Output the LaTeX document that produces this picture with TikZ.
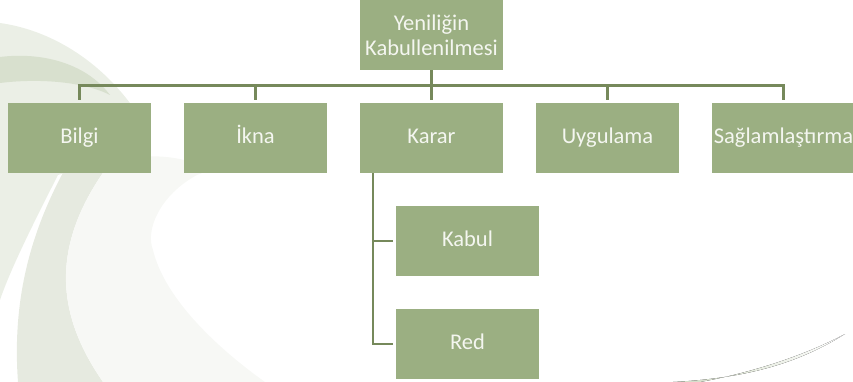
\documentclass[tikz,border=0pt]{standalone}
\usepackage{fontspec}
\setmainfont{Carlito}
\usetikzlibrary{calc}
\definecolor{boxgreen}{HTML}{9BAF82}
\definecolor{linegreen}{HTML}{76895B}
\definecolor{boxtext}{HTML}{F4F6F0}
\definecolor{bgA}{HTML}{EBEFE6}
\definecolor{bgB}{HTML}{D8E0CE}
\definecolor{bgC}{HTML}{E6EAE0}
\definecolor{bgD}{HTML}{F7F8F5}
\definecolor{bgS}{HTML}{D0DAC4}
\tikzset{
  boxbase/.style={fill=boxgreen, text=boxtext, minimum width=143pt, minimum height=70pt,
    inner sep=0pt, font=\fontsize{22.5}{25}\selectfont, align=center},
  box/.style={boxbase, text height=16pt, text depth=5pt},
  conn/.style={draw=linegreen, line width=2.6pt, line join=miter}
}
\begin{document}
\begin{tikzpicture}[x=1pt,y=-1pt]
\useasboundingbox (0,0) rectangle (853,382);
% background swooshes
\fill[bgA] (0,23) .. controls (50,30) and (100,60) .. (135,110) -- (110,160)
  -- (58,175) .. controls (35,220) and (10,270) .. (0,300) -- cycle;
\fill[bgB] (0,57) .. controls (40,52) and (85,62) .. (110,95)
  .. controls (85,82) and (40,78) .. (0,83) -- cycle;
\fill[bgC] (70,160) .. controls (30,230) and (12,300) .. (18,382) -- (103,382)
  .. controls (60,320) and (45,250) .. (110,163) -- cycle;
\fill[bgD] (110,163) .. controls (150,150) and (190,158) .. (210,170)
  -- (197,175) .. controls (160,195) and (145,230) .. (153,250)
  .. controls (165,300) and (220,350) .. (265,382) -- (103,382)
  .. controls (60,320) and (45,250) .. (110,163) -- cycle;
\fill[left color=bgS, right color=white] (673,382) .. controls (750,378) and (800,362) .. (845,334)
  .. controls (800,358) and (745,374) .. (700,382) -- cycle;
% nodes
\node[boxbase] (top) at (431.5,35) {Yeniliğin\\Kabullenilmesi};
\node[box] (bilgi) at (79.5,138) {Bilgi};
\node[box] (ikna) at (255.5,138) {İkna};
\node[box] (karar) at (431.5,138) {Karar};
\node[box] (uyg) at (607.5,138) {Uygulama};
\node[box] (sag) at (783.5,138) {Sağlamlaştırma};
\node[box] (kabul) at (467.5,241) {Kabul};
\node[box] (red) at (467.5,344) {Red};
% connectors
\draw[conn] ($(bilgi.north)+(0,-3)$) -- ($(bilgi.north)+(0,-17)$)
  -- ($(sag.north)+(0,-17)$) -- ($(sag.north)+(0,-3)$);
\draw[conn] ($(ikna.north)+(0,-17)$) -- ($(ikna.north)+(0,-3)$);
\draw[conn] ($(uyg.north)+(0,-17)$) -- ($(uyg.north)+(0,-3)$);
\draw[conn] (top.south) -- ($(karar.north)+(0,-3)$);
\draw[conn] ($(karar.south west)+(13,0)$) |- ($(red.west)+(-3,0)$);
\draw[conn] ($(karar.south west)+(13,0)$) |- ($(kabul.west)+(-3,0)$);
\end{tikzpicture}
\end{document}
